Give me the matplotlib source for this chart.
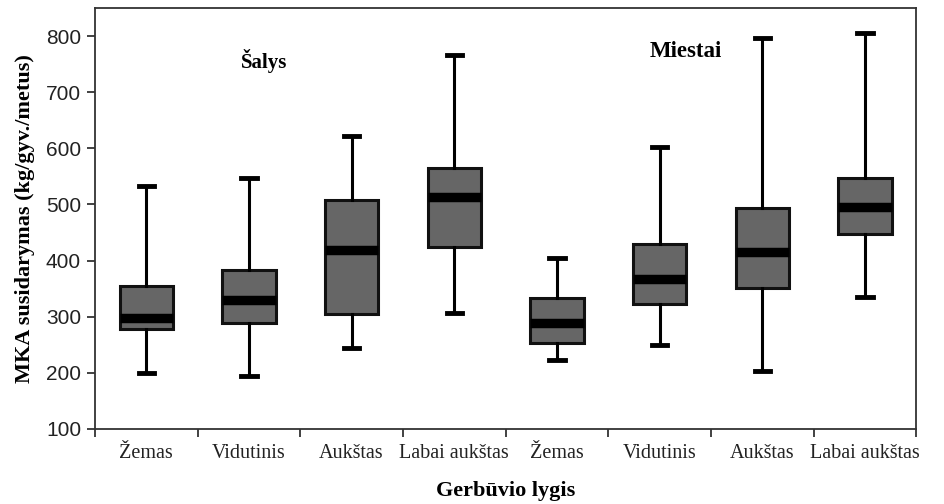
import matplotlib
matplotlib.use("Agg")
import matplotlib.pyplot as plt
import numpy as np

# gerbūvio lygiai: pirmi keturi - šalys, kiti keturi - miestai
categories = ["Žemas", "Vidutinis", "Aukštas", "Labai aukštas",
              "Žemas", "Vidutinis", "Aukštas", "Labai aukštas"]
whisker_low = [200, 195, 245, 306, 222, 250, 203, 335]
q1 = [278, 288, 305, 425, 253, 322, 352, 447]
medians = [298, 330, 418, 513, 288, 367, 415, 495]
q3 = [355, 383, 508, 565, 333, 430, 493, 548]
whisker_high = [533, 548, 622, 767, 405, 603, 797, 806]

stats = []
for i in range(len(categories)):
    stats.append({"whislo": whisker_low[i], "q1": q1[i], "med": medians[i],
                  "q3": q3[i], "whishi": whisker_high[i], "fliers": []})

fig = plt.figure(figsize=(9.45, 5.04), dpi=100)
ax = fig.add_axes([0.1005, 0.149, 0.869, 0.835])

pos = np.arange(len(categories))
ax.bxp(stats, positions=pos, widths=0.52, patch_artist=True, showfliers=False,
       capwidths=0.15,
       boxprops=dict(facecolor="#666666", edgecolor="#111111", linewidth=2.2),
       medianprops=dict(color="black", linewidth=6.8, solid_capstyle="butt"),
       whiskerprops=dict(color="black", linewidth=2.2),
       capprops=dict(color="black", linewidth=3.5))

ax.set_xlim(-0.5, len(categories) - 0.5)
ax.set_ylim(100, 850)
ax.set_yticks(np.arange(100, 801, 100))

# brūkšneliai tarp kategorijų, pavadinimai - po dėžutėmis
ax.set_xticks(np.arange(-0.5, len(categories) - 0.4, 1.0))
ax.set_xticklabels([])
ax.set_xticks(pos, minor=True)
ax.set_xticklabels(categories, minor=True, family="Liberation Serif", fontsize=14.5, color="#222222")
ax.tick_params(axis="x", which="major", length=6, width=1.3, direction="out", colors="#333333")
ax.tick_params(axis="x", which="minor", length=0, pad=11)
ax.tick_params(axis="y", length=6, width=1.3, direction="out", colors="#333333", labelsize=15, pad=4)
for lab in ax.get_yticklabels():
    lab.set_family("Liberation Sans")
    lab.set_color("#222222")

for s in ax.spines.values():
    s.set_linewidth(1.3)
    s.set_color("#333333")

ax.set_ylabel("MKA susidarymas (kg/gyv./metus)", family="Liberation Serif",
              fontweight="bold", fontsize=16, labelpad=8)
ax.set_xlabel("Gerbūvio lygis", family="Liberation Serif", fontweight="bold",
              fontsize=16, labelpad=13)

ax.text(1.15, 755, "Šalys", family="Liberation Serif", fontweight="bold",
        fontsize=15, ha="center", va="center")
ax.text(5.26, 772, "Miestai", family="Liberation Serif", fontweight="bold",
        fontsize=16.5, ha="center", va="center")

fig.savefig("out.png", dpi=100)
